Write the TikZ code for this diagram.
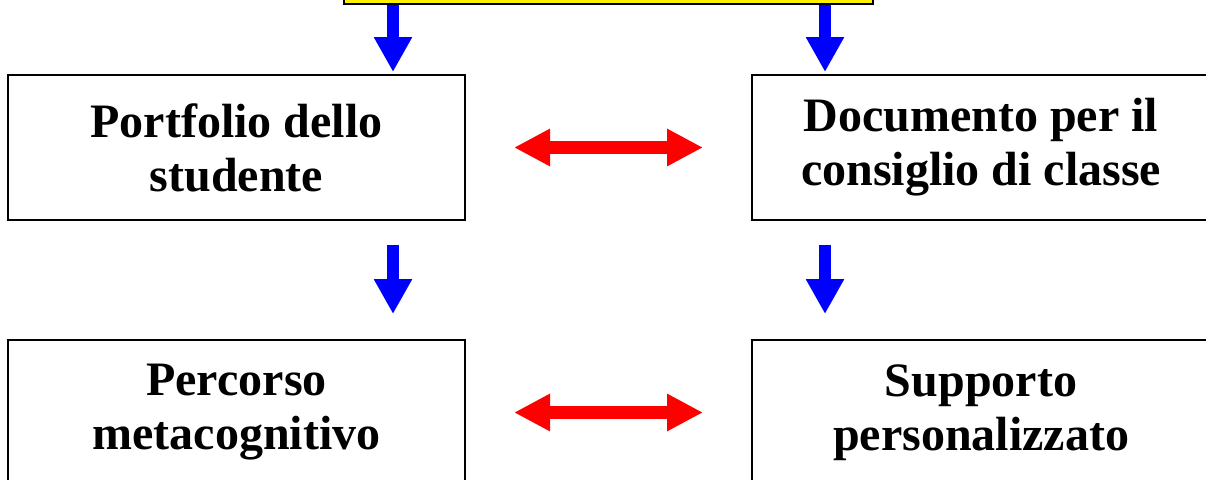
\documentclass[tikz,border=0pt]{standalone}
\usepackage{fontspec}
\setmainfont{Liberation Serif}
\usetikzlibrary{arrows.meta}
\begin{document}
\begin{tikzpicture}[x=1pt,y=1pt,
  box/.style={draw=black, line width=2pt, fill=white, align=center,
    font=\fontsize{48pt}{54pt}\selectfont\bfseries, inner sep=0pt},
  bluearrow/.style={draw=blue, line width=11.5pt,
    -{Triangle[length=35pt,width=36pt]}},
  redarrow/.style={draw=red, line width=12.5pt,
    {Triangle[length=36pt,width=35pt]}-{Triangle[length=36pt,width=35pt]}}]
\useasboundingbox (0,0) rectangle (1206,-479);
\clip (0,0) rectangle (1206,-479);
\fill[white] (0,0) rectangle (1206,-479);
\node[box, fill=yellow, minimum width=529pt, minimum height=60pt, anchor=south] (top) at (608.5,-5) {};
\node[box, minimum width=457pt, minimum height=145pt] (port) at (236.5,-147.5) {Portfolio dello\\studente};
\node[box, minimum width=458pt, minimum height=145pt] (doc) at (981,-147.5) {Documento per il\\consiglio di classe};
\node[box, minimum width=457pt, minimum height=145pt] (perc) at (236.5,-412.5) {Percorso\\metacognitivo};
\node[box, minimum width=458pt, minimum height=145pt] (supp) at (981,-412.5) {Supporto\\personalizzato};
\draw[bluearrow, shorten >=2pt] ([xshift=-215.5pt]top.south) -- ([xshift=-215.5pt]top.south |- port.north);
\draw[bluearrow, shorten >=2pt] ([xshift=216.5pt]top.south) -- ([xshift=216.5pt]top.south |- doc.north);
\draw[bluearrow, shorten <=24pt, shorten >=25pt] ([xshift=156.5pt]port.south) -- ([xshift=156.5pt]port.south |- perc.north);
\draw[bluearrow, shorten <=24pt, shorten >=25pt] ([xshift=-156pt]doc.south) -- ([xshift=-156pt]doc.south |- supp.north);
\draw[redarrow, shorten <=48pt, shorten >=48pt] (port.east) -- (doc.west);
\draw[redarrow, shorten <=48pt, shorten >=48pt] (perc.east) -- (supp.west);
\end{tikzpicture}
\end{document}
